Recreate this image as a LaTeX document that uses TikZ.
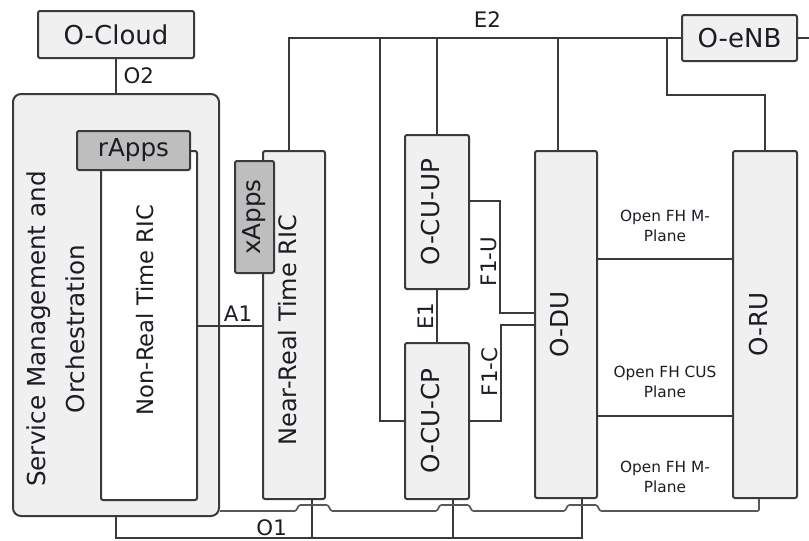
\documentclass[tikz,border=0pt]{standalone}
\usepackage{fontspec}
\setmainfont{DejaVu Sans}
\usepackage{graphicx}
\usepackage{xcolor}
\usepackage{tikz}
\usetikzlibrary{positioning, calc}

\definecolor{boxgray}{HTML}{F0F0F0}
\definecolor{appgray}{HTML}{BEBEBE}
\definecolor{edgegray}{HTML}{3A3A3A}
\definecolor{txtdark}{HTML}{1C1C24}
\newcommand{\vlbl}[1]{\rotatebox{90}{#1\rule[-10pt]{0pt}{10pt}}}

\begin{document}
\begin{tikzpicture}[x=0.75pt, y=-0.75pt,
    box/.style={rectangle, draw=edgegray, fill=boxgray, line width=1.5pt, rounded corners=1.5pt, inner sep=0pt, text=txtdark, font=\fontsize{18.5}{22}\selectfont},
    appbox/.style={box, fill=appgray},
    ricbox/.style={box, fill=white},
    link/.style={draw=edgegray, line width=1.5pt},
    hopline/.style={draw=edgegray!85, line width=1.2pt, rounded corners=1pt},
    ifname/.style={text=txtdark, inner sep=2pt, font=\fontsize{16}{19}\selectfont},
    fhname/.style={text=txtdark, align=center, inner sep=0pt, font=\fontsize{11.5}{15}\selectfont}]

    \useasboundingbox (0,0) rectangle (809,540);

    % SMO side
    \node [box, font=\fontsize{19.5}{22}\selectfont, minimum width=117pt, minimum height=35.25pt] (cloud) at (116,34.5) {O-Cloud};
    \node [box, rounded corners=6pt, minimum width=154.5pt, minimum height=316.5pt] (smo) at (116,305) {};
    \node [text=txtdark, rotate=90, align=center, font=\fontsize{18.5}{29}\selectfont] (smotxt) at (56,329) {Service Management and\\Orchestration};
    \node [ricbox, minimum width=72pt, minimum height=261.75pt] (nrt) at (149,325.5) {};
    \node [text=txtdark, rotate=90, font=\fontsize{17}{20}\selectfont] (nrttxt) at (145,310) {Non-Real Time RIC};
    \node [appbox, minimum width=84.75pt, minimum height=29.25pt] (rapps) at (133.5,150.5) {rApps};

    % RAN side
    \node [box, font=\fontsize{18}{20}\selectfont, minimum width=46.5pt, minimum height=261pt] (ric) at (294,325) {\vlbl{Near-Real Time RIC\hspace{8pt}}};
    \node [appbox, minimum width=29.25pt, minimum height=84pt] (xapps) at (254.5,217) {\rotatebox{90}{xApps}};
    \node [box, minimum width=48pt, minimum height=115.5pt] (cuup) at (437,212) {\vlbl{O-CU-UP}};
    \node [box, minimum width=48pt, minimum height=117pt] (cucp) at (437,421) {\vlbl{O-CU-CP}};
    \node [box, minimum width=46.5pt, minimum height=260.25pt] (du) at (566,324.5) {\vlbl{O-DU}};
    \node [box, minimum width=48pt, minimum height=260.25pt] (ru) at (765,324.5) {\vlbl{O-RU}};
    \node [box, font=\fontsize{19.5}{22}\selectfont, minimum width=86.25pt, minimum height=34.5pt] (enb) at (739.5,38) {O-eNB};

    \coordinate (ricup) at ($(ric.north)+(-5,0)$);
    \coordinate (cpbus) at (380,38);
    \coordinate (duup) at ($(du.north)+(-8,0)$);
    \coordinate (rubus) at (667,38);
    \coordinate (e2end) at (809,38);
    \coordinate (fuout) at ($(cuup.east)+(0,-11)$);
    \coordinate (fuin) at ($(du.west)+(0,-11.5)$);
    \coordinate (o1end) at ($(du.south)+(16,39)$);
    \coordinate (ricdn) at ($(ric.south)+(18,0)$);
    \coordinate (cpdn) at ($(cucp.south)+(16,0)$);
    \coordinate (hopstart) at ($(smo.south east)+(0,-6)$);
    \coordinate (rudn) at ($(ru.south)+(-6,0)$);

    \draw [link] (cloud) -- node[ifname, right=3pt] {O2} (smo);
    \draw [link] (nrt.east) -- node[ifname, above, xshift=6pt] {A1} (ric.west |- nrt.east);

    % E2
    \draw [link] (ricup) |- node[ifname, above, pos=0.753, yshift=5pt] {E2} (enb.west);
    \draw [link] (cuup.north) -- (cuup.north |- enb.west);
    \draw [link] (cucp.west) -| (cpbus);
    \draw [link] (duup) -- (duup |- enb.west);
    \draw [link] (rubus) -- ++(0,57) -| (ru.north);
    \draw [link] (enb.east) -- (e2end);

    % E1 / F1
    \draw [link] (cuup) -- node[ifname, midway, rotate=90, anchor=south] {E1} (cucp);
    \draw [link] (fuout) -| node[ifname, pos=0.77, rotate=90, anchor=south] {F1-U} ($(fuin)+(-34,0)$) -- (fuin);
    \draw [link] (cucp.east) -| node[ifname, pos=0.755, rotate=90, anchor=south] {F1-C} ($(du.west)+(-33,0)$) -- (du.west);

    % fronthaul
    \draw [link] ($(du.east)+(0,-65.5)$) -- node[fhname, midway, above=12.5pt] {Open FH M-\\Plane} ($(ru.west)+(0,-65.5)$);
    \draw [link] ($(du.east)+(0,91.5)$) -- node[fhname, midway, above=13pt] {Open FH CUS\\Plane} node[fhname, midway, below=33pt] {Open FH M-\\Plane} ($(ru.west)+(0,91.5)$);

    % O1
    \draw [link] (smo.south) |- node[ifname, above, pos=0.667, inner sep=1pt] {O1} (o1end) -- (o1end |- du.south);
    \draw [link] (ricdn) -- (ricdn |- o1end);
    \draw [link] (cpdn) -- (cpdn |- o1end);
    \draw [hopline] (hopstart) -- ++(76,0) -- ++(3,-6) -- ++(29,0) -- ++(3,6) -- ++(106,0) -- ++(3,-6) -- ++(29,0) -- ++(3,6) -- ++(93,0) -- ++(3,-6) -- ++(29,0) -- ++(3,6) -| (rudn);

\end{tikzpicture}
\end{document}
